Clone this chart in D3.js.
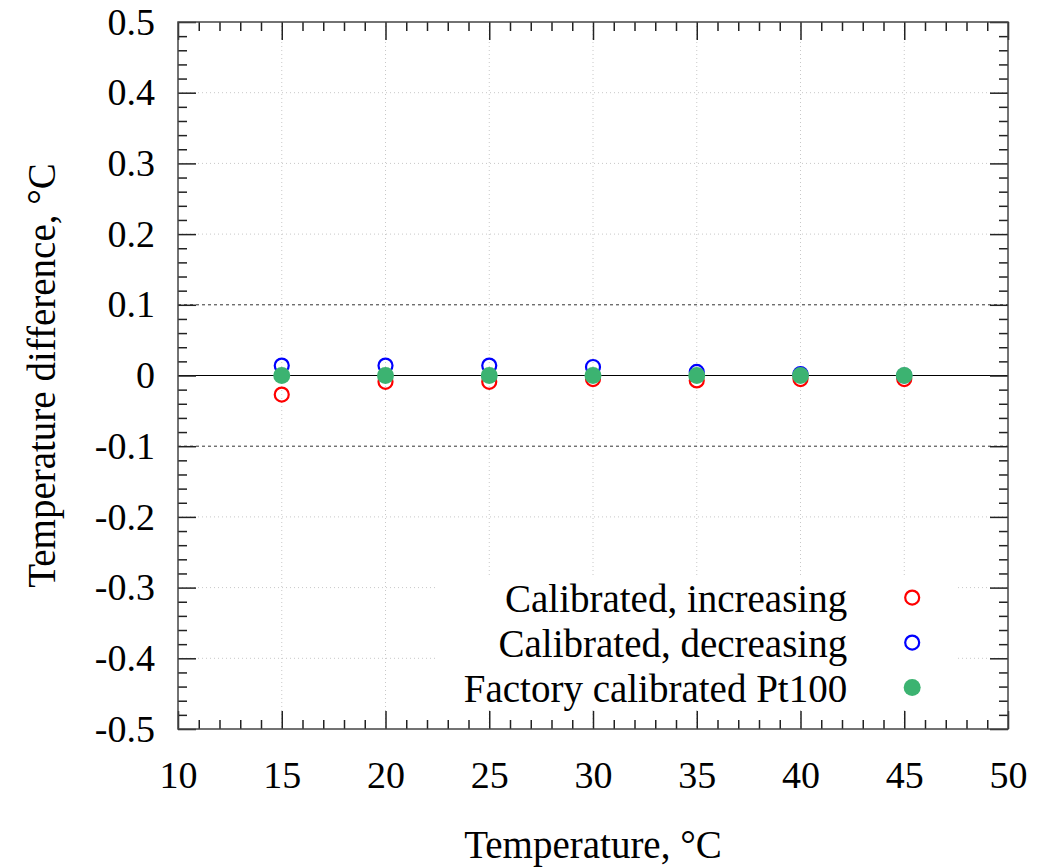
<!DOCTYPE html>
<html>
<head>
<meta charset="utf-8">
<script src="https://cdn.jsdelivr.net/npm/d3@7"></script>
<style>
  body { margin: 0; background: #fff; }
  svg text { font-family: "Liberation Serif", "Times New Roman", serif !important; fill: #000; }
</style>
</head>
<body>
<svg width="1058" height="867"></svg>
<script>
// data
let temps = [15, 20, 25, 30, 35, 40, 45];
let increasing = [-0.027, -0.009, -0.009, -0.005, -0.007, -0.005, -0.005];
let decreasing = [0.014, 0.014, 0.014, 0.012, 0.005, 0.002, 0.000];
let factory = [0, 0, 0, 0, 0, 0, 0];
let xTicks = [10, 15, 20, 25, 30, 35, 40, 45, 50];
let yTicks = [-0.5, -0.4, -0.3, -0.2, -0.1, 0, 0.1, 0.2, 0.3, 0.4, 0.5];
let seriesNames = ["Calibrated, increasing", "Calibrated, decreasing", "Factory calibrated Pt100"];

let serif = '"Liberation Serif", "Times New Roman", serif';

let svg = d3.select("svg"),
    margin = {left: 178, right: 50, top: 22, bottom: 138},
    width = 1058 - margin.left - margin.right,
    height = 867 - margin.top - margin.bottom,
    g = svg.append("g").attr("transform", "translate(" + margin.left + "," + margin.top + ")");

let x = d3.scaleLinear().domain([10, 50]).range([0, width]);
let y = d3.scaleLinear().domain([-0.5, 0.5]).range([height, 0]);

let yFmt = function (d) { return Math.abs(d) < 1e-9 ? "0" : d.toFixed(1); };

// minor tick positions (every 1 on x, every 0.02 on y)
let xMinor = d3.range(10, 50.001, 1).filter(function (d) { return d % 5 !== 0; });
let yMinor = d3.range(-50, 51, 2).filter(function (d) { return d % 10 !== 0; }).map(function (d) { return d / 100; });

// grid, dotted
g.append("g").selectAll("line")
    .data(xTicks.slice(1, -1))
    .enter().append("line")
    .attr("x1", x).attr("x2", x)
    .attr("y1", 0).attr("y2", height)
    .attr("stroke", "#c8c8c8").attr("stroke-dasharray", "1,3");

g.append("g").selectAll("line")
    .data(yTicks.slice(1, -1).filter(function (d) { return Math.abs(Math.abs(d) - 0.1) > 1e-9 && Math.abs(d) > 1e-9; }))
    .enter().append("line")
    .attr("x1", 0).attr("x2", width)
    .attr("y1", y).attr("y2", y)
    .attr("stroke", "#c8c8c8").attr("stroke-dasharray", "1,3");

// +-0.1 limits and zero line
g.append("g").selectAll("line")
    .data([0.1, -0.1])
    .enter().append("line")
    .attr("x1", 0).attr("x2", width)
    .attr("y1", y).attr("y2", y)
    .attr("stroke", "#333").attr("stroke-width", 1).attr("stroke-dasharray", "3,3");

g.append("line")
    .attr("x1", 0).attr("x2", width)
    .attr("y1", y(0)).attr("y2", y(0))
    .attr("stroke", "#000").attr("stroke-width", 1.2);

// axes with inward ticks on all four sides
function styleAxis(sel) {
    sel.attr("font-family", serif);
    sel.select(".domain").remove();
    sel.selectAll(".tick line").attr("stroke", "#222").attr("stroke-width", 1.5);
    sel.selectAll("text").style("font-size", "38px").style("font-family", serif).attr("fill", "#000");
}

g.append("g").attr("transform", "translate(0," + height + ")")
    .call(d3.axisBottom(x).tickValues(xTicks).tickSize(-18).tickPadding(32).tickFormat(d3.format("d")))
    .call(styleAxis);
g.append("g").attr("transform", "translate(0," + height + ")")
    .call(d3.axisBottom(x).tickValues(xMinor).tickSize(-9).tickFormat(""))
    .call(styleAxis);
g.append("g")
    .call(d3.axisTop(x).tickValues(xTicks).tickSize(-18).tickFormat(""))
    .call(styleAxis);
g.append("g")
    .call(d3.axisTop(x).tickValues(xMinor).tickSize(-9).tickFormat(""))
    .call(styleAxis);

g.append("g")
    .call(d3.axisLeft(y).tickValues(yTicks).tickSize(-18).tickPadding(23).tickFormat(yFmt))
    .call(styleAxis);
g.append("g")
    .call(d3.axisLeft(y).tickValues(yMinor).tickSize(-9).tickFormat(""))
    .call(styleAxis);
g.append("g").attr("transform", "translate(" + width + ",0)")
    .call(d3.axisRight(y).tickValues(yTicks).tickSize(-18).tickFormat(""))
    .call(styleAxis);
g.append("g").attr("transform", "translate(" + width + ",0)")
    .call(d3.axisRight(y).tickValues(yMinor).tickSize(-9).tickFormat(""))
    .call(styleAxis);

// frame
g.append("rect")
    .attr("width", width).attr("height", height)
    .attr("fill", "none").attr("stroke", "#444").attr("stroke-width", 1.5);

// legend (white box hides the grid behind it)
let legend = g.append("g").attr("transform", "translate(" + x(42.25) + "," + y(-0.3) + ")");
legend.append("rect")
    .attr("x", x(22.5) - x(42.25)).attr("y", -12)
    .attr("width", x(47.5) - x(22.5)).attr("height", 133)
    .attr("fill", "#fff");

let styles = [
    {fill: "none", stroke: "#ff0000", r: 7},
    {fill: "none", stroke: "#0000ff", r: 7},
    {fill: "#3cb371", stroke: "none", r: 8.5}
];

let rows = legend.selectAll(".row")
    .data(seriesNames)
    .enter().append("g")
    .attr("class", "row")
    .attr("transform", function (d, i) { return "translate(0," + (10 + i * 45) + ")"; });

rows.append("text")
    .attr("x", 0)
    .attr("dy", 14)
    .attr("text-anchor", "end")
    .style("font-size", "39px")
    .style("font-family", serif)
    .text(function (d) { return d; });

rows.append("circle")
    .attr("cx", 65)
    .attr("r", function (d, i) { return styles[i].r; })
    .attr("fill", function (d, i) { return styles[i].fill; })
    .attr("stroke", function (d, i) { return styles[i].stroke; })
    .attr("stroke-width", 2.2);

// points
[increasing, decreasing, factory].forEach(function (vals, k) {
    g.append("g").selectAll("circle")
        .data(vals)
        .enter().append("circle")
        .attr("cx", function (d, i) { return x(temps[i]); })
        .attr("cy", function (d) { return y(d); })
        .attr("r", styles[k].r)
        .attr("fill", styles[k].fill)
        .attr("stroke", styles[k].stroke)
        .attr("stroke-width", 2.2);
});

// axis titles
svg.append("text")
    .attr("x", margin.left + width / 2)
    .attr("y", 858)
    .attr("text-anchor", "middle")
    .style("font-size", "39px")
    .style("font-family", serif)
    .text("Temperature, °C");

svg.append("text")
    .attr("transform", "translate(55," + (margin.top + height / 2) + ")rotate(-90)")
    .attr("text-anchor", "middle")
    .style("font-size", "39px")
    .style("font-family", serif)
    .text("Temperature difference, °C");
</script>
</body>
</html>
